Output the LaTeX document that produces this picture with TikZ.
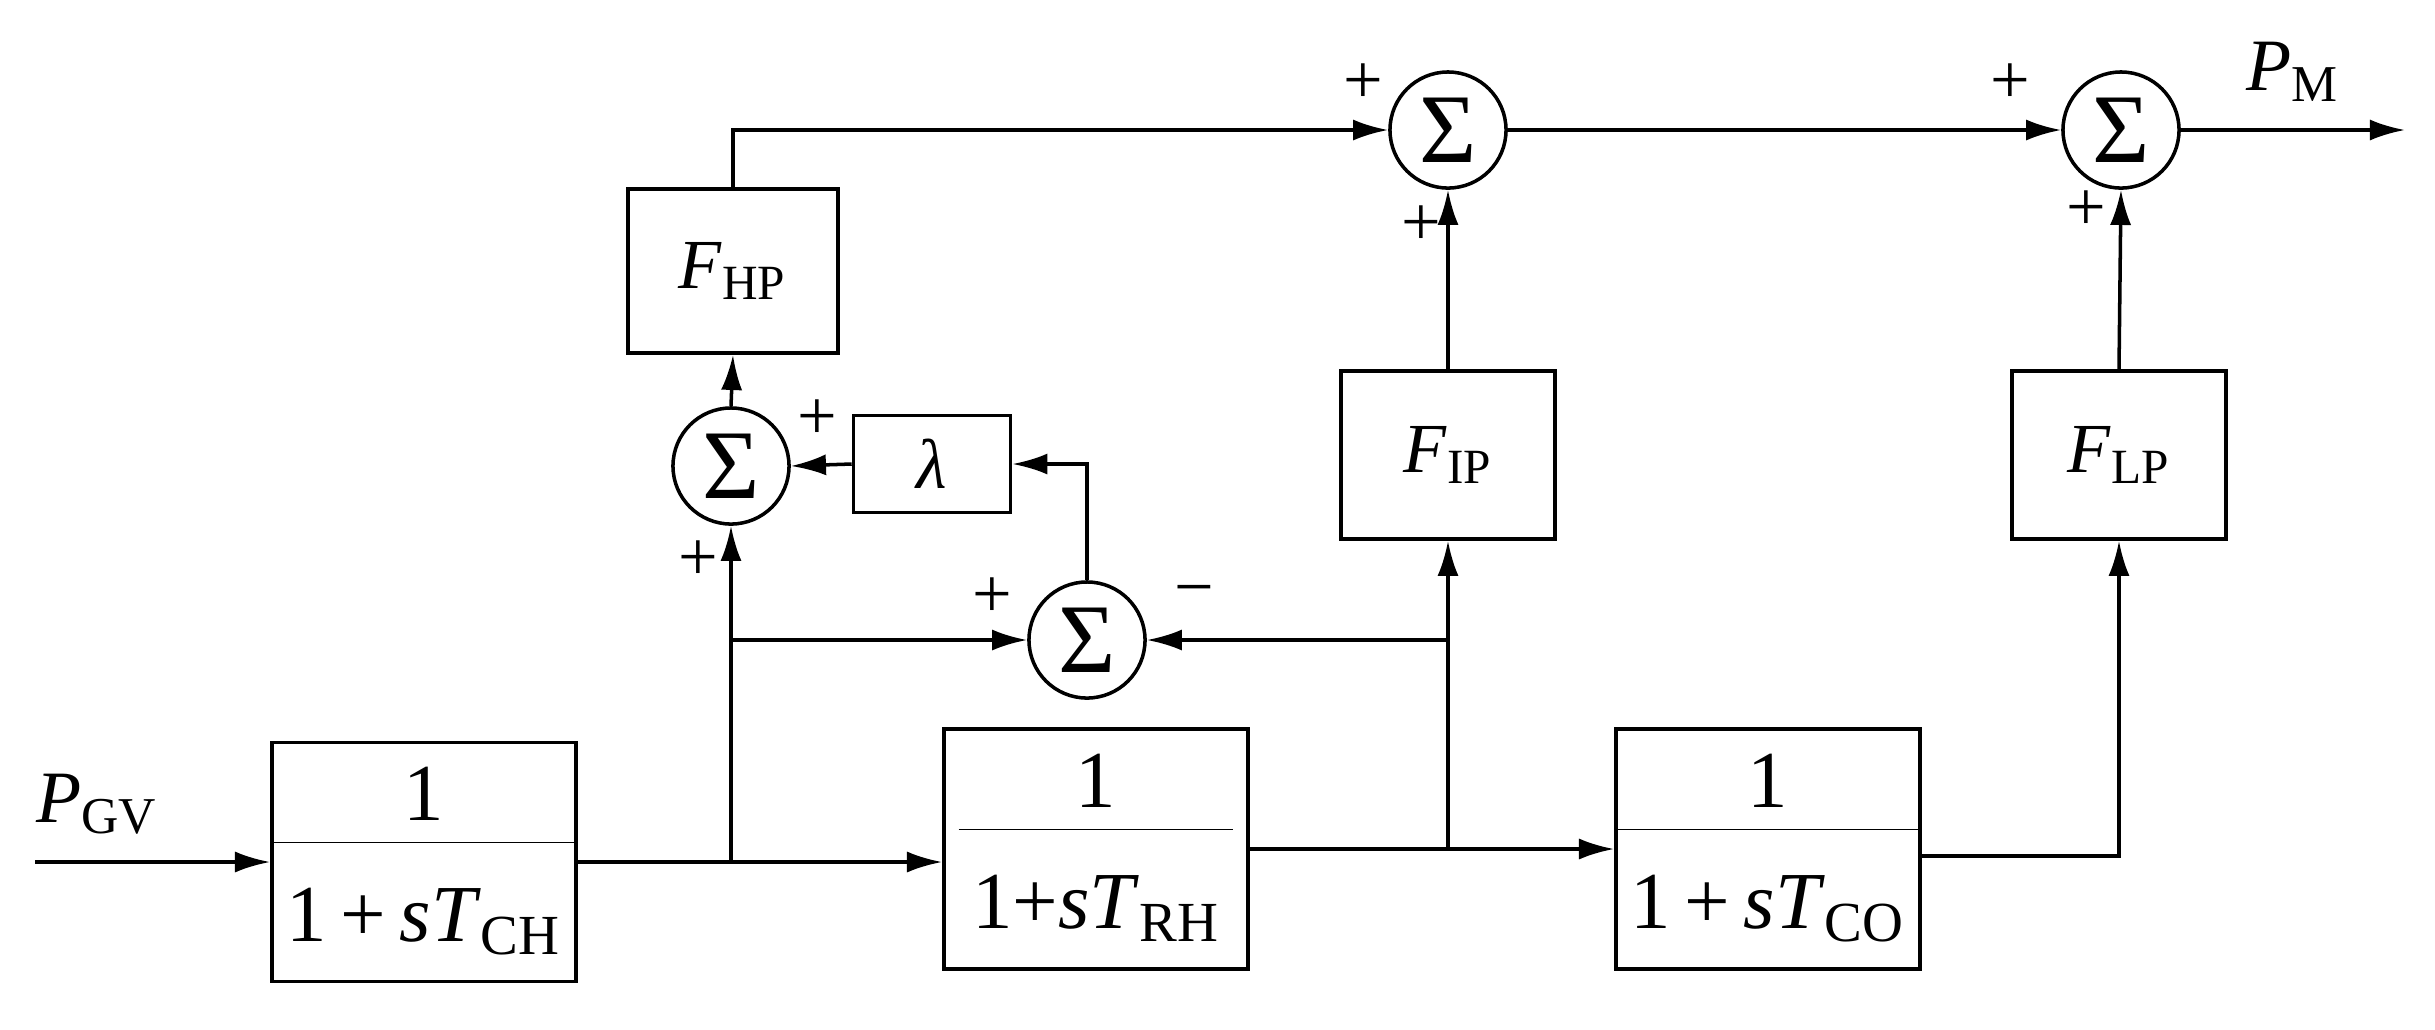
\documentclass[tikz,border=0pt]{standalone}
\usepackage{fontspec}
\setmainfont{Liberation Serif}
\usetikzlibrary{arrows.meta}
\begin{document}
\begin{tikzpicture}[x=0.01cm,y=-0.01cm,
  line width=1pt,
  blk/.style={draw,rectangle,inner sep=0pt,font=\fontsize{20}{24}\selectfont},
  fr/.style={draw,rectangle,inner sep=0pt,font=\fontsize{23}{27}\selectfont},
  sm/.style={draw,circle,minimum size=116\pgflinewidth,inner sep=0pt,minimum size=1.16cm,font=\fontsize{28}{30}\selectfont},
  sg/.style={font=\fontsize{20}{22}\selectfont,inner sep=0pt},
  lab/.style={font=\fontsize{21}{24}\selectfont,inner sep=0pt},
  ar/.style={-{Latex[length=10pt,width=6pt]}}]
\useasboundingbox (0,0) rectangle (2435,1029);
\newcommand{\myfrac}[2]{\begin{tabular}{@{\,}c@{\,}}#1\\[-2pt]\hline\rule{0pt}{28pt}#2\end{tabular}}
% blocks
\node[fr,minimum width=3.04cm,minimum height=2.39cm] (b1) at (424,862) {\myfrac{1}{1\,+\,\textit{s}\textit{T}\textsubscript{CH}}};
\node[fr,minimum width=3.04cm,minimum height=2.40cm] (b2) at (1096,849) {\myfrac{1}{1+\textit{s}\textit{T}\textsubscript{RH}}};
\node[fr,minimum width=3.04cm,minimum height=2.40cm] (b3) at (1768,849) {\myfrac{1}{1\,+\,\textit{s}\textit{T}\textsubscript{CO}}};
\node[blk,minimum width=2.10cm,minimum height=1.64cm] (fhp) at (733,271) {\textit{F}\textsubscript{HP}};
\node[blk,minimum width=2.14cm,minimum height=1.68cm] (fip) at (1448,455) {\textit{F}\textsubscript{IP}};
\node[blk,minimum width=2.14cm,minimum height=1.68cm] (flp) at (2119,455) {\textit{F}\textsubscript{LP}};
\node[blk,minimum width=1.57cm,minimum height=0.97cm] (lam) at (932,464) {\textit{λ}};
% sums
\node[sm] (s1) at (731,466) {Σ};
\node[sm] (s3) at (1087,640) {Σ};
\node[sm] (s2) at (1448,130) {Σ};
\node[sm] (s4) at (2121,130) {Σ};
% coordinates
\coordinate (in) at (35,862);
\coordinate (j1) at (731,862);
\coordinate (j2) at (1448,849);
\coordinate (out) at (2405,130);
% labels
\node[lab] (pgv) at (97,804) {\textit{P}\textsubscript{GV}};
\node[lab] (pm) at (2293,72) {\textit{P}\textsubscript{M}};
\node[sg] at (817,420) {+};
\node[sg] at (698,561) {+};
\node[sg] at (992,598) {+};
\node[sg] at (1194,598) {−};
\node[sg] at (1363,84) {+};
\node[sg] at (1421,226) {+};
\node[sg] at (2010,84) {+};
\node[sg] at (2086,211) {+};
% connectors
\draw[ar] (in) -- (b1.west);
\draw (b1.east) -- (j1);
\draw[ar] (j1) -- (b2.west |- j1);
\draw[ar] (j1) -- (s1.south);
\draw[ar] (s1.north) -- (fhp.south);
\draw[ar] (lam.west) -- (s1.east);
\draw[ar] (j1 |- s3) -- (s3.west);
\draw[ar] (s3.north) |- (lam.east);
\draw (b2.east |- j2) -- (j2);
\draw[ar] (j2) -- (b3.west |- j2);
\draw[ar] (j2) -- (fip.south);
\draw[ar] (j2 |- s3) -- (s3.east);
\draw[ar] (fip.north) -- (s2.south);
\draw[ar] (fhp.north) |- (s2.west);
\draw[ar] (s2.east) -- (s4.west);
\draw[ar] (b3.east |- 0,856) -| (flp.south);
\draw[ar] (flp.north) -- (s4.south);
\draw[ar] (s4.east) -- (out);
\end{tikzpicture}
\end{document}
